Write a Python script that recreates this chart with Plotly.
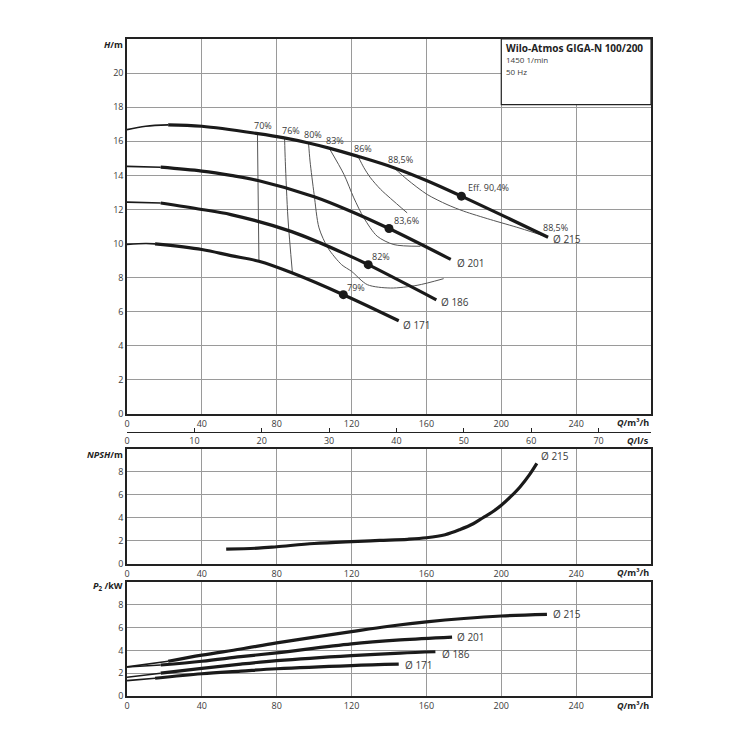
import plotly.graph_objects as go

# ---------------- DATA ----------------
# Q-H curves (Q in m3/h, H in m)
q_215 = [0, 10, 22, 40, 70, 84, 97, 108, 123, 142.6, 160, 178.7, 200, 225]
h_215 = [16.68, 16.88, 16.96, 16.88, 16.45, 16.2, 15.9, 15.6, 15.13, 14.45, 13.7, 12.78, 11.68, 10.37]
q_201 = [0, 18, 40, 55.5, 70, 100, 119.5, 140, 173]
h_201 = [14.53, 14.48, 14.25, 14.0, 13.7, 12.75, 11.9, 10.88, 9.07]
q_186 = [0, 18, 40, 55.5, 88, 119.5, 128.9, 165.3]
h_186 = [12.43, 12.38, 12.0, 11.7, 10.7, 9.25, 8.76, 6.7]
q_171 = [0, 10, 15, 40, 55.5, 70.5, 88.4, 115.6, 145.2]
h_171 = [9.95, 10.0, 9.98, 9.65, 9.29, 8.96, 8.27, 7.0, 5.47]
qmin = {"215": 22, "201": 18, "186": 18, "171": 15}
diameters = ["215", "201", "186", "171"]

# best-efficiency points
eff_q = [178.7, 140, 128.9, 115.6]
eff_h = [12.78, 10.88, 8.76, 7.0]
eff_labels = ["Eff. 90,4%", "83,6%", "82%", "79%"]

# iso-efficiency lines
iso70_q = [69.7, 70.5]
iso70_h = [16.45, 8.96]
iso76_q = [84.2, 84.6, 86, 88.4]
iso76_h = [16.2, 14.8, 11.5, 8.27]
iso80_q = [97, 97.8, 100, 102.6, 107.4, 114.7, 120, 128.4, 140.8, 155, 169.2]
iso80_h = [15.9, 14.84, 12.88, 10.92, 9.74, 8.76, 8.37, 7.59, 7.39, 7.55, 7.94]
iso83_q = [108, 115.9, 121.2, 126.6, 133.7, 142.6, 156.8]
iso83_h = [15.6, 14.06, 12.68, 11.5, 10.43, 9.94, 9.84]
iso86_q = [123.4, 126.6, 130.1, 135.5, 140.8, 149.7]
iso86_h = [15.13, 14.45, 13.86, 13.18, 12.65, 11.8]
iso885_q = [142.6, 149.7, 160.4, 171, 179.9, 194.1, 210, 225]
iso885_h = [14.45, 13.76, 12.88, 12.29, 11.9, 11.41, 10.9, 10.37]
iso_labels = ["70%", "76%", "80%", "83%", "86%", "88,5%"]

# NPSH curve (Ø 215)
npsh_q = [53, 70, 80, 100, 120, 135, 150, 160, 170, 178, 185, 190, 195, 200, 205, 210, 215, 219]
npsh_v = [1.30, 1.38, 1.5, 1.78, 1.95, 2.05, 2.15, 2.28, 2.55, 3.0, 3.5, 4.0, 4.5, 5.1, 5.85, 6.7, 7.75, 8.75]

# P2 curves (kW)
p_q_215 = [0, 22, 40, 60.8, 80, 120, 140, 160, 180, 200, 224.4]
p_215 = [2.55, 3.05, 3.58, 4.12, 4.66, 5.65, 6.12, 6.5, 6.8, 7.02, 7.16]
p_q_201 = [0, 18, 40, 60.8, 80, 120, 146, 173.7]
p_201 = [2.55, 2.72, 3.05, 3.45, 3.79, 4.58, 4.92, 5.17]
p_q_186 = [0, 18, 40, 60.8, 80, 120, 146, 164.8]
p_186 = [1.64, 2.0, 2.42, 2.8, 3.1, 3.55, 3.77, 3.88]
p_q_171 = [0, 15, 40, 60.8, 80, 120, 145.2]
p_171 = [1.35, 1.56, 1.95, 2.18, 2.39, 2.67, 2.79]

q_ticks = [0, 40, 80, 120, 160, 200, 240]
ls_ticks = [0, 10, 20, 30, 40, 50, 60, 70]
h_ticks = list(range(0, 21, 2))
small_ticks = [0, 2, 4, 6, 8]

title_main = "Wilo-Atmos GIGA-N 100/200"
title_speed = "1450 1/min"
title_freq = "50 Hz"

# ---------------- FIGURE ----------------
FONT = "Open Sans"
DARK = "#1a1a1a"
TXT = "#3a3a3a"
fig = go.Figure()


def add_curve(q, v, qm, xa, ya):
    tq = [a for a in q if a <= qm]
    tv = [b for a, b in zip(q, v) if a <= qm]
    kq = [a for a in q if a >= qm]
    kv = [b for a, b in zip(q, v) if a >= qm]
    fig.add_trace(go.Scatter(x=tq, y=tv, mode="lines", xaxis=xa, yaxis=ya,
                             line=dict(color=DARK, width=1.6, shape="spline"),
                             hoverinfo="skip", showlegend=False))
    fig.add_trace(go.Scatter(x=kq, y=kv, mode="lines", xaxis=xa, yaxis=ya,
                             line=dict(color=DARK, width=3.2, shape="spline"),
                             hoverinfo="skip", showlegend=False))


# iso-efficiency lines
for iq, ih in [(iso70_q, iso70_h), (iso76_q, iso76_h), (iso80_q, iso80_h),
               (iso83_q, iso83_h), (iso86_q, iso86_h), (iso885_q, iso885_h)]:
    fig.add_trace(go.Scatter(x=iq, y=ih, mode="lines", xaxis="x", yaxis="y",
                             line=dict(color="#555555", width=1, shape="spline", smoothing=0.8),
                             hoverinfo="skip", showlegend=False))

hq = {"215": (q_215, h_215), "201": (q_201, h_201), "186": (q_186, h_186), "171": (q_171, h_171)}
for d in diameters:
    add_curve(hq[d][0], hq[d][1], qmin[d], "x", "y")

fig.add_trace(go.Scatter(x=eff_q, y=eff_h, mode="markers", xaxis="x", yaxis="y",
                         marker=dict(color=DARK, size=9), hoverinfo="skip", showlegend=False))

# NPSH
fig.add_trace(go.Scatter(x=npsh_q, y=npsh_v, mode="lines", xaxis="x2", yaxis="y2",
                         line=dict(color=DARK, width=3.2, shape="spline"),
                         hoverinfo="skip", showlegend=False))

# P2
pq = {"215": (p_q_215, p_215), "201": (p_q_201, p_201), "186": (p_q_186, p_186), "171": (p_q_171, p_171)}
for d in diameters:
    add_curve(pq[d][0], pq[d][1], qmin[d], "x3", "y3")

# dummy trace for the l/s axis
fig.add_trace(go.Scatter(x=[0], y=[0], xaxis="x4", yaxis="y", mode="markers",
                         marker=dict(opacity=0), hoverinfo="skip", showlegend=False))

# ---------------- ANNOTATIONS ----------------
ann = []


def txt(x, y, s, xa="x", ya="y", anchor="center", size=9, color=TXT):
    ann.append(dict(x=x, y=y, xref=xa, yref=ya, text=s, showarrow=False,
                    xanchor=anchor, yanchor="middle",
                    font=dict(family=FONT, size=size, color=color)))


iso_pos = [(72.9, 16.94), (87.5, 16.66), (99.5, 16.37), (110.9, 16.06), (126, 15.59), (146, 14.92)]
for lab, (x, y) in zip(iso_labels, iso_pos):
    txt(x, y, lab)
txt(181.2, 13.27, eff_labels[0], anchor="left")
txt(149.3, 11.35, eff_labels[1])
txt(135.5, 9.25, eff_labels[2])
txt(122.1, 7.45, eff_labels[3])
txt(228.8, 10.96, "88,5%")

h_lab = [(226.5, 10.24), (175, 8.86), (166.6, 6.57), (146.5, 5.24)]
for d, (x, y) in zip(diameters, h_lab):
    txt(x, y, "Ø " + d, anchor="left", size=10)

txt(220.4, 9.42, "Ø 215", xa="x2", ya="y2", anchor="left", size=10)

p_lab = [(226.7, 7.16), (175.5, 5.17), (167.5, 3.71), (147.6, 2.76)]
for d, (x, y) in zip(diameters, p_lab):
    txt(x, y, "Ø " + d, xa="x3", ya="y3", anchor="left", size=10)

# title box texts
txt(201.6, 21.5, "<b>" + title_main + "</b>", anchor="left", size=10, color="#222")
txt(201.6, 20.8, title_speed, anchor="left", size=8)
txt(201.6, 20.1, title_freq, anchor="left", size=8)


# axis titles (paper)
def ptxt(x, y, s, anchor):
    ann.append(dict(x=x, y=y, xref="paper", yref="paper", text=s, showarrow=False,
                    xanchor=anchor, yanchor="middle",
                    font=dict(family=FONT, size=9, color="#222")))


ptxt(-0.004, 0.9909, "<b><i>H</i>/m</b>", "right")
ptxt(1.0, 0.417, "<b><i>Q</i>/m³/h</b>", "right")
ptxt(1.0, 0.3896, "<b><i>Q</i>/l/s</b>", "right")
ptxt(-0.004, 0.3683, "<b><i>NPSH</i>/m</b>", "right")
ptxt(1.0, 0.1887, "<b><i>Q</i>/m³/h</b>", "right")
ptxt(-0.004, 0.1674, "<b><i>P</i><sub>2</sub> /kW</b>", "right")
ptxt(1.0, -0.0152, "<b><i>Q</i>/m³/h</b>", "right")

# ---------------- AXES ----------------
GRID = "#9a9a9a"
tickfont = dict(family=FONT, size=9, color=TXT)


def xax(anchor):
    return dict(range=[0, 280], tickvals=q_ticks, showgrid=True, gridcolor=GRID, gridwidth=1,
                showline=True, linecolor="#222", linewidth=1.5, mirror=True,
                zeroline=False, ticks="", tickfont=tickfont, anchor=anchor, domain=[0, 1])


def yax(rng, tv, domain):
    return dict(range=rng, tickvals=tv, showgrid=True, gridcolor=GRID, gridwidth=1,
                showline=True, linecolor="#222", linewidth=1.5, mirror=True,
                zeroline=False, ticks="", tickfont=tickfont, domain=domain)


fig.update_layout(
    width=742, height=742,
    margin=dict(l=119, r=99, t=31, b=54),
    paper_bgcolor="white", plot_bgcolor="white",
    showlegend=False,
    xaxis=xax("y"),
    yaxis=dict(yax([0, 22], h_ticks, [0.4292, 1.0]), anchor="x"),
    xaxis2=xax("y2"),
    yaxis2=dict(yax([0, 10], small_ticks, [0.2009, 0.3760]), anchor="x2"),
    xaxis3=xax("y3"),
    yaxis3=dict(yax([0, 10], small_ticks, [0.0, 0.1735]), anchor="x3"),
    xaxis4=dict(range=[0, 280 / 3.6], tickvals=ls_ticks, overlaying="x", anchor="free",
                position=0.4018, showgrid=False, showline=True, linecolor="#222", linewidth=1.2,
                zeroline=False, ticks="inside", ticklen=4, tickcolor="#222", tickfont=tickfont),
    annotations=ann,
    shapes=[dict(type="rect", xref="x", yref="y", x0=200, x1=280, y0=18.15, y1=22,
                 fillcolor="white", line=dict(color="#222", width=1.2), layer="above")],
)

fig.write_html("out.html")
